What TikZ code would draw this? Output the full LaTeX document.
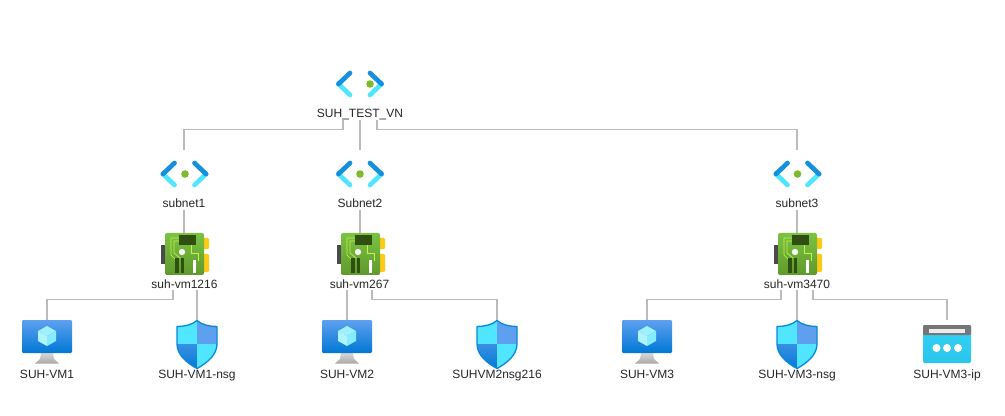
\documentclass[tikz,border=0pt]{standalone}
\usepackage{fontspec}
\setmainfont{Liberation Sans}
\usetikzlibrary{calc}
\definecolor{linegray}{HTML}{BBBBBB}
\definecolor{azdark}{HTML}{1490DF}
\definecolor{azlight}{HTML}{50E6FF}
\definecolor{azmid}{HTML}{5EA0EF}
\definecolor{azdeep}{HTML}{0078D4}
\definecolor{dotgreen}{HTML}{7FBA2C}
\definecolor{nictop}{HTML}{7CC242}
\definecolor{nicbot}{HTML}{5E9A2C}
\definecolor{nicdark}{HTML}{2F4F13}
\definecolor{nictrace}{HTML}{C6F04A}
\definecolor{nicyellow}{HTML}{FFCA16}
\definecolor{nicgray}{HTML}{4A4A4A}
\definecolor{standa}{HTML}{D8D8D8}
\definecolor{standb}{HTML}{A8A8A8}
\definecolor{barA}{HTML}{767676}
\definecolor{ipA}{HTML}{32D4F5}
\definecolor{ipB}{HTML}{2BC4EC}
\tikzset{
  x=0.75pt,y=-0.75pt,
  conn/.style={draw=linegray,line width=0.8pt},
  lbl/.style={inner sep=0pt,font=\fontsize{9pt}{11pt}\selectfont,text=black!85,text height=6.75pt,text depth=1.5pt},
  iconbox/.style 2 args={inner sep=0pt,minimum width=#1*0.75pt,minimum height=#2*0.75pt},
  chev/.style={line width=3.5pt,line cap=round},
  pics/vnet/.style={code={
    \draw[chev,azdark] (-10,-11) -- (-21.5,0);
    \draw[chev,azlight] (-21.5,0) -- (-10,11);
    \draw[chev,azdark] (-21.5,0) -- (-20,-1.5);
    \draw[chev,azdark] (10,-11) -- (21.5,0);
    \draw[chev,azlight] (21.5,0) -- (10,11);
    \draw[chev,azdark] (21.5,0) -- (20,-1.5);
    \fill[dotgreen] (#1,0) circle[radius=3.8];
  }},
  pics/nicicon/.style={code={
    \fill[nicgray] (-23,12) rectangle (-18,31);
    \fill[nicyellow,rounded corners=0.8pt] (19,5) rectangle (25,16);
    \fill[nicyellow,rounded corners=0.8pt] (19,21) rectangle (25,39);
    \shade[top color=nictop,bottom color=nicbot,rounded corners=1.5pt] (-19,0) rectangle (20,42);
    \draw[nictrace,line width=0.5pt] (-5,5) -- (-13,5) -- (-13,22) -- (-7,28);
    \draw[nictrace,line width=0.5pt] (-5,8) -- (-10,8) -- (-10,20) -- (-4,25);
    \draw[nictrace,line width=0.5pt] (7,12) -- (7,20) -- (14,20) -- (14,28);
    \fill[nicdark] (-5,2.5) rectangle (12,12);
    \fill[white!92!nictop] (-2,19) circle[radius=3.2];
    \fill[nicdark] (-9,25) rectangle (-5.5,40);
    \fill[nicdark] (-3.5,25) rectangle (0,40);
    \fill[white] (9,27) rectangle (12,40);
  }},
  pics/vmicon/.style={code={
    \shade[top color=standa,bottom color=standb] (-6,33) -- (6,33) -- (7,39) -- (12,43.5) -- (-12,43.5) -- (-7,39) -- cycle;
    \shade[top color=azmid,bottom color=azdeep,rounded corners=0.8pt] (-25,0) rectangle (25,33);
    \fill[azlight!55!white] (0,6) -- (9,11) -- (0,16) -- (-9,11) -- cycle;
    \fill[azlight!45!white] (-9,11) -- (0,16) -- (0,26) -- (-9,21) -- cycle;
    \fill[azlight!70!white] (9,11) -- (0,16) -- (0,26) -- (9,21) -- cycle;
  }},
  pics/shieldicon/.style={code={
    \def\shieldpath{(0,0.5) .. controls (5,5) and (13,6.5) .. (20,6.5) -- (20,24) .. controls (20,35) and (10,43) .. (0,48.5) .. controls (-10,43) and (-20,35) .. (-20,24) -- (-20,6.5) .. controls (-13,6.5) and (-5,5) .. (0,0.5) -- cycle}
    \begin{scope}
      \clip \shieldpath;
      \fill[azlight] (-21,0) rectangle (0,24);
      \fill[azmid] (0,0) rectangle (21,24);
      \shade[top color=azmid!60!azdeep,bottom color=azdeep] (-21,24) rectangle (0,50);
      \fill[azlight] (0,24) rectangle (21,50);
    \end{scope}
    \draw[azdeep!85!azlight,line width=1pt,line join=round] \shieldpath;
  }},
  pics/ipicon/.style={code={
    \shade[top color=ipA,bottom color=ipB,rounded corners=1.5pt] (-24,5) rectangle (24,43);
    \fill[barA,rounded corners=0.8pt] (-24,5) rectangle (24,15);
    \fill[white!92!black] (-18,8.5) rectangle (18,13);
    \foreach \dx in {-10.5,0,11} \fill[white] (\dx,28) circle[radius=4];
  }}
}
\begin{document}
\begin{tikzpicture}
\useasboundingbox (0,0) rectangle (1005,416);
\fill[white] (0,0) rectangle (1005,416);
% icons
\pic at (360,84) {vnet=10};
\pic at (184.5,174) {vnet=0.5};
\pic at (360,174) {vnet=0};
\pic at (797.5,174) {vnet=0};
\pic at (184,233) {nicicon};
\pic at (360,233) {nicicon};
\pic at (797,233) {nicicon};
\pic at (47,320) {vmicon};
\pic at (347,320) {vmicon};
\pic at (647,320) {vmicon};
\pic at (197,320) {shieldicon};
\pic at (497,320) {shieldicon};
\pic at (797,320) {shieldicon};
\pic at (947,320) {ipicon};
% named boxes of the icons
\node[iconbox={48}{48}] (sn1) at (184,174) {};
\node[iconbox={48}{48}] (sn2) at (360,174) {};
\node[iconbox={48}{48}] (sn3) at (797,174) {};
\node[iconbox={48}{42}] (nic1) at (184,254) {};
\node[iconbox={48}{42}] (nic2) at (360,254) {};
\node[iconbox={48}{42}] (nic3) at (797,254) {};
\node[iconbox={50}{44}] (vm1) at (47,342) {};
\node[iconbox={50}{44}] (vm2) at (347,342) {};
\node[iconbox={50}{44}] (vm3) at (647,342) {};
\node[iconbox={40}{48}] (nsg1) at (197,344) {};
\node[iconbox={40}{48}] (nsg2) at (497,344) {};
\node[iconbox={40}{48}] (nsg3) at (797,344) {};
\node[iconbox={48}{44}] (ip3) at (947,342) {};
% labels
\node[lbl] (lroot) at (360,114.5) {SUH\_TEST\_VN};
\node[lbl] (lsn1) at (184,204) {subnet1};
\node[lbl] (lsn2) at (360,204) {Subnet2};
\node[lbl] (lsn3) at (797,204) {subnet3};
\node[lbl] (lnic1) at (184.5,284.5) {suh-vm1216};
\node[lbl] (lnic2) at (359.5,284.5) {suh-vm267};
\node[lbl] (lnic3) at (797,284.5) {suh-vm3470};
\node[lbl] at (47,374.5) {SUH-VM1};
\node[lbl] at (197,374.5) {SUH-VM1-nsg};
\node[lbl] at (347,374.5) {SUH-VM2};
\node[lbl] at (497,374.5) {SUHVM2nsg216};
\node[lbl] at (647,374.5) {SUH-VM3};
\node[lbl] at (797,374.5) {SUH-VM3-nsg};
\node[lbl] at (947,374.5) {SUH-VM3-ip};
% connectors
\draw[conn] ($(lroot.south)+(-17,0)$) -- ++(0,9) -| (sn1.north);
\draw[conn] (lroot.south) -- (sn2.north);
\draw[conn] ($(lroot.south)+(17,0)$) -- ++(0,9) -| (sn3.north);
\draw[conn] (lsn1.south) -- (nic1.north);
\draw[conn] (lsn2.south) -- (nic2.north);
\draw[conn] (lsn3.south) -- (nic3.north);
\draw[conn] ($(lnic1.south)+(-11.5,0)$) -- ++(0,9) -| (vm1.north);
\draw[conn] (nsg1.north) -- (nsg1.north |- lnic1.south);
\draw[conn] (vm2.north) -- (vm2.north |- lnic2.south);
\draw[conn] ($(lnic2.south)+(12.5,0)$) -- ++(0,9) -| (nsg2.north);
\draw[conn] ($(lnic3.south)+(-16,0)$) -- ++(0,9) -| (vm3.north);
\draw[conn] (lnic3.south) -- (nsg3.north);
\draw[conn] ($(lnic3.south)+(16,0)$) -- ++(0,9) -| (ip3.north);
\end{tikzpicture}
\end{document}
